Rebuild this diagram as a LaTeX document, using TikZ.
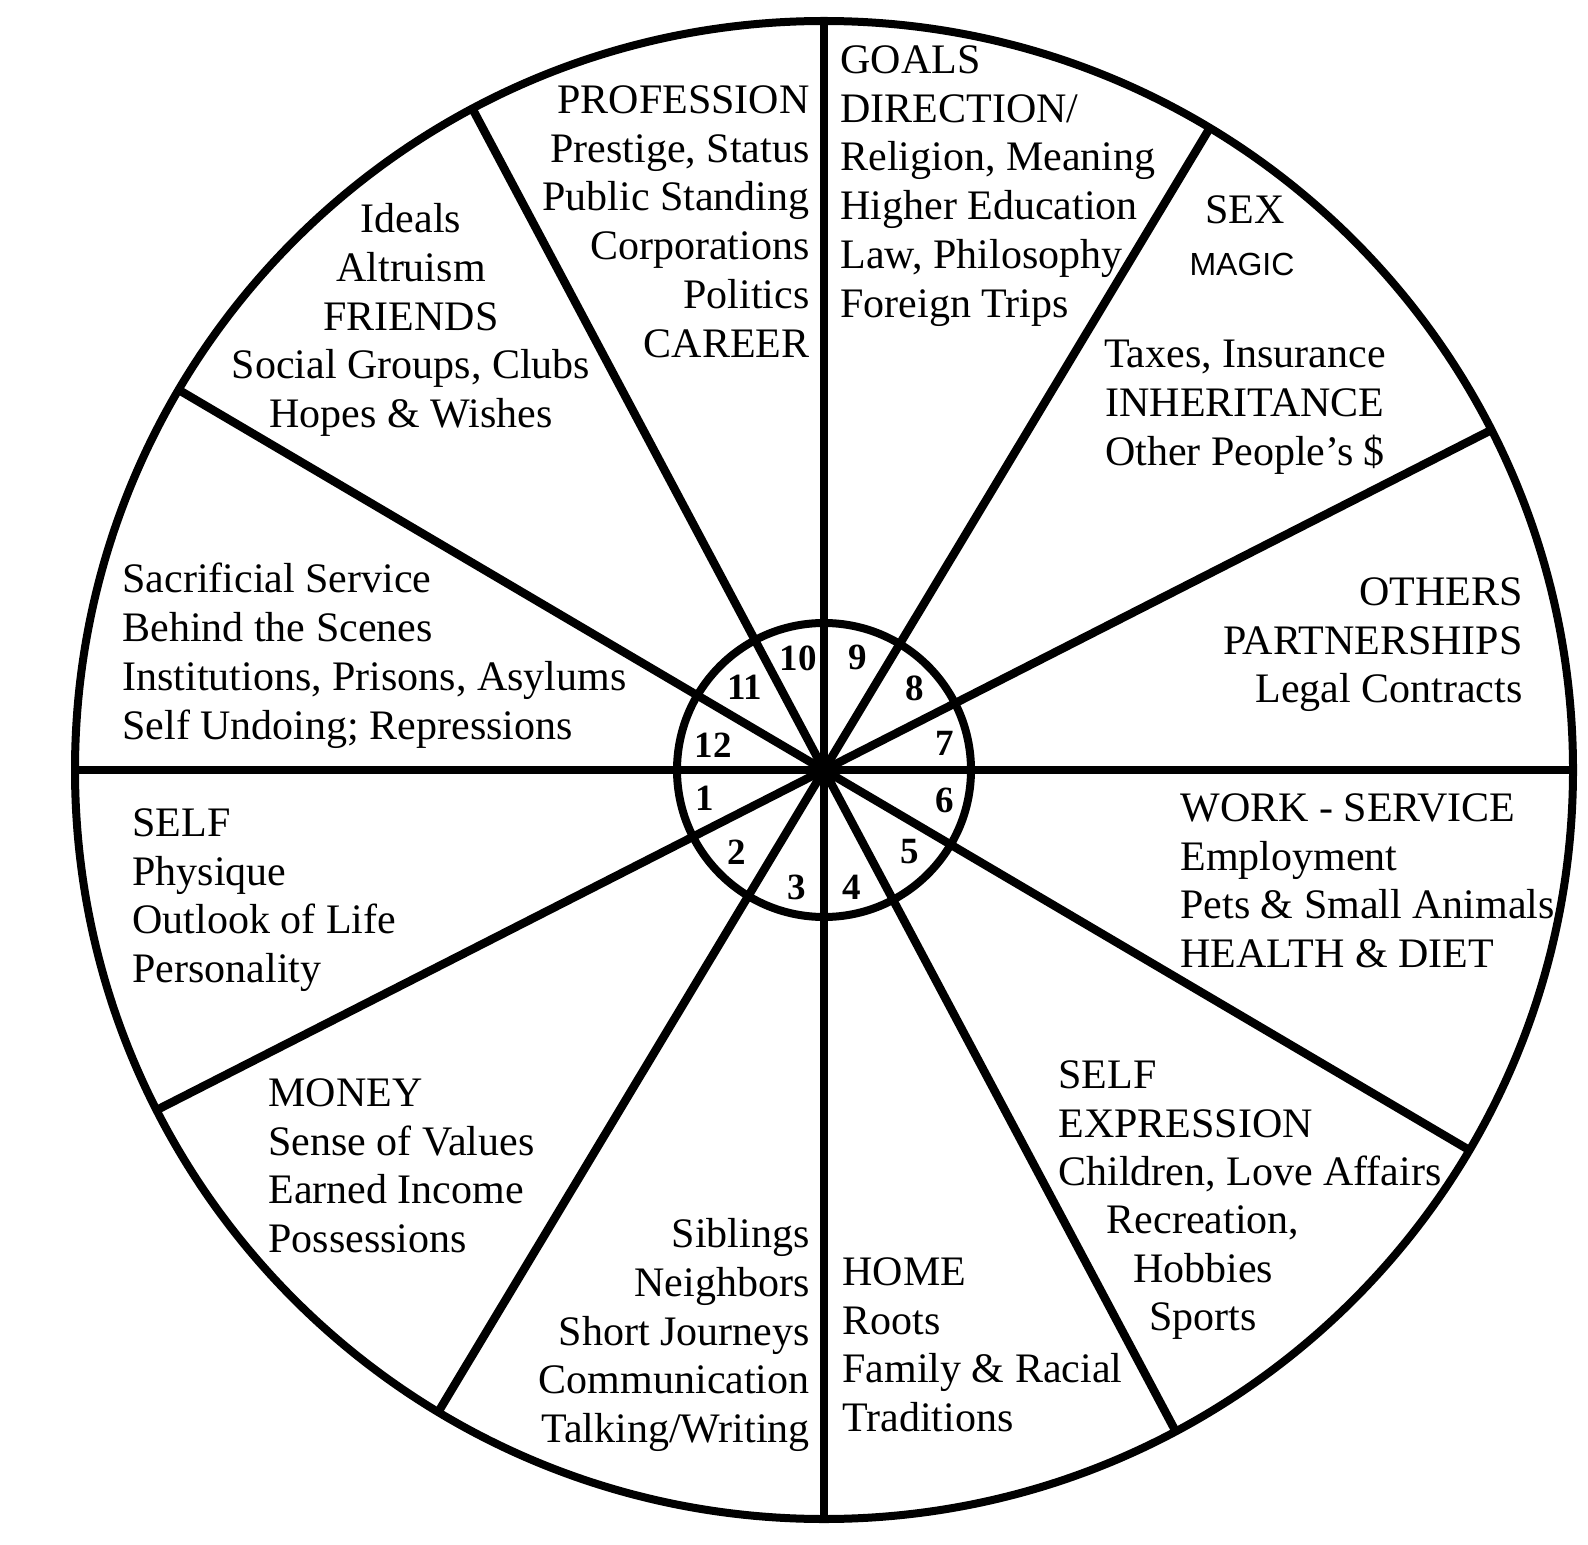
\documentclass[tikz,border=0pt]{standalone}
\usepackage{fontspec}
\setmainfont{Liberation Serif}
\newfontfamily\magicfont{Liberation Sans}
\usepackage{tikz}

\begin{document}
\begin{tikzpicture}[x=0.5pt, y=0.5pt,
            rim/.style={line width=4pt},
            spoke/.style={line width=4.2pt},
            house/.style={inner sep=0pt, font=\fontsize{21pt}{24.4pt}\selectfont},
            num/.style={inner sep=0pt, font=\fontsize{18.5pt}{20pt}\selectfont\bfseries}
        ]
            \useasboundingbox (0,0) rectangle (1588,1544);
            \coordinate (c) at (824,774);

            % Wheel and spokes
            \draw[rim] (c) circle (749);
            \draw[rim] (c) circle (147);
            \draw[spoke] (c) +(0:749)     -- +(180:749);
            \draw[spoke] (c) +(27:749)    -- +(207:749);
            \draw[spoke] (c) +(59:749)    -- +(239:749);
            \draw[spoke] (c) +(90:749)    -- +(270:749);
            \draw[spoke] (c) +(118:749)   -- +(298:749);
            \draw[spoke] (c) +(149.5:749) -- +(329.5:749);

            % House numbers
            \node[num] (n1)  at (705,746) {1};
            \node[num] (n2)  at (737,692) {2};
            \node[num] (n3)  at (797,657) {3};
            \node[num] (n4)  at (852,657) {4};
            \node[num] (n5)  at (910,692) {5};
            \node[num] (n6)  at (945,744) {6};
            \node[num] (n7)  at (945,801) {7};
            \node[num] (n8)  at (915,856) {8};
            \node[num] (n9)  at (858,887) {9};
            \node[num] (n10) at (798,886) {10};
            \node[num] (n11) at (745,857) {11};
            \node[num] (n12) at (713,799) {12};

            % Upper half
            \node[house, anchor=north east, align=right] (career) at (810,1459)
                {PROFESSION\\Prestige, Status\\Public Standing\\Corporations\\Politics\\CAREER};
            \node[house, anchor=north west, align=left] (goals) at (840,1499)
                {GOALS\\DIRECTION/\\Religion, Meaning\\Higher Education\\Law, Philosophy\\Foreign Trips};
            \node[house, anchor=north] (sex) at (1245,1349) {SEX};
            \node[inner sep=0pt, anchor=north, font=\magicfont\fontsize{16pt}{18pt}\selectfont] (magic) at (1242,1291) {MAGIC};
            \node[house, anchor=north, align=center] (inherit) at (1245,1204)
                {Taxes, Insurance\\INHERITANCE\\Other People’s \$};
            \node[house, anchor=north, align=center] (friends) at (411,1341)
                {Ideals\\Altruism\\FRIENDS\\Social Groups, Clubs\\Hopes \& Wishes};
            \node[house, anchor=north west, align=left] (undoing) at (122,981)
                {Sacrificial Service\\Behind the Scenes\\Institutions, Prisons, Asylums\\Self Undoing; Repressions};
            \node[house, anchor=north east, align=right] (partners) at (1523,967)
                {OTHERS\\PARTNERSHIPS\\Legal Contracts};

            % Lower half
            \node[house, anchor=north west, align=left] (self) at (132,736)
                {SELF\\Physique\\Outlook of Life\\Personality};
            \node[house, anchor=north west, align=left] (work) at (1180,751)
                {WORK - SERVICE\\Employment\\Pets \& Small Animals\\HEALTH \& DIET};
            \node[house, anchor=north west, align=left] (money) at (268,466)
                {MONEY\\Sense of Values\\Earned Income\\Possessions};
            \node[house, anchor=north east, align=right] (siblings) at (810,326)
                {Siblings\\Neighbors\\Short Journeys\\Communication\\Talking/Writing};
            \node[house, anchor=north west, align=left] (home) at (842,287)
                {HOME\\Roots\\Family \& Racial\\Traditions};
            \node[house, anchor=north west, align=left] (expression) at (1058,484)
                {SELF\\EXPRESSION\\Children, Love Affairs};
            \node[house, anchor=north, align=center] (hobbies) at (1203,339)
                {Recreation,\\Hobbies\\Sports};

        \end{tikzpicture}
\end{document}
